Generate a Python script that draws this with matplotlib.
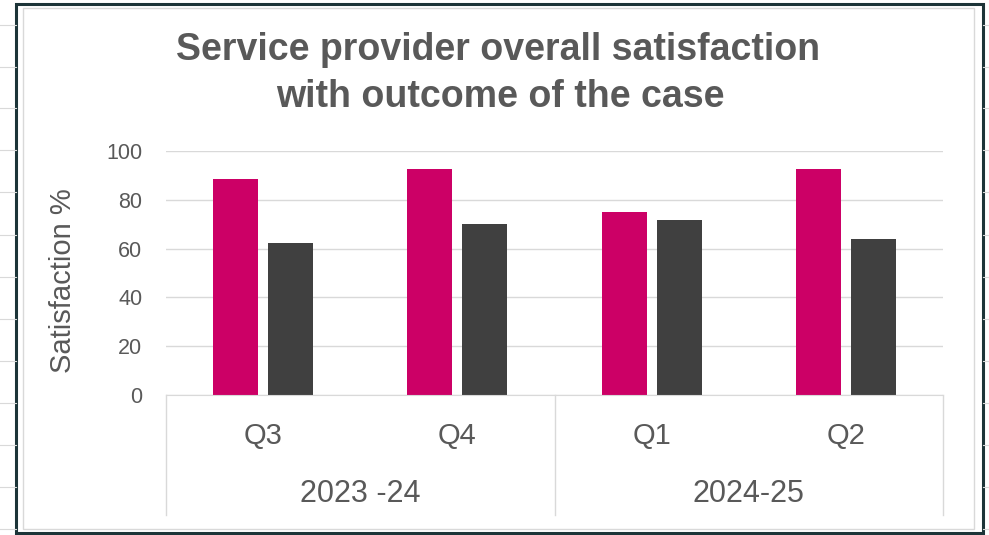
import matplotlib
matplotlib.use("Agg")
import matplotlib.pyplot as plt
from matplotlib.patches import Rectangle
import numpy as np

plt.rcParams['font.family'] = ['Liberation Sans', 'DejaVu Sans']

quarters = ["Q3", "Q4", "Q1", "Q2"]
years = ["2023 -24", "2024-25"]
provider = [88.5, 92.5, 75.2, 92.5]
other = [62.3, 70.0, 71.8, 64.0]

W, H = 989, 535
fig = plt.figure(figsize=(W / 100, H / 100), dpi=100)

# spreadsheet background grid peeking out around the frame
for y in [25, 67, 108, 150, 192, 235, 277, 319, 361, 403, 445, 487, 529]:
    fig.add_artist(plt.Line2D([0, 16 / W], [1 - y / H] * 2, color="#d9d9d9", lw=0.8))
    fig.add_artist(plt.Line2D([983 / W, 1], [1 - y / H] * 2, color="#d9d9d9", lw=0.8))

# chart frame
fig.add_artist(Rectangle((16 / W, 2 / H), 967 / W, 529 / H, transform=fig.transFigure,
                         fill=False, ec="#1c3438", lw=2.2))
fig.add_artist(Rectangle((23 / W, 6 / H), 951 / W, 521 / H, transform=fig.transFigure,
                         fill=False, ec="#d9d9d9", lw=1.0))

ax = fig.add_axes([166 / W, 140 / H, 777 / W, 244 / H])
x = np.arange(len(quarters))
bw = 0.232
ax.bar(x - bw / 2 - 0.026, provider, bw, color="#cc0066")
ax.bar(x + bw / 2 + 0.026, other, bw, color="#404040")

ax.set_xlim(-0.5, 3.5)
ax.set_ylim(0, 100)
ax.set_yticks(range(0, 101, 20))
ax.yaxis.grid(True, color="#d9d9d9", lw=1.0)
ax.set_axisbelow(True)
for s in ["top", "right", "left"]:
    ax.spines[s].set_visible(False)
ax.spines["bottom"].set_color("#d9d9d9")
ax.tick_params(axis="y", length=0, labelsize=15.5, labelcolor="#595959", pad=17)
ax.set_xticks([])

# multi-level category axis
tr = ax.get_xaxis_transform()
depth = -120 / 244
for xv in [-0.5, 1.5, 3.5]:
    ax.plot([xv, xv], [0, depth], transform=tr, color="#d9d9d9", lw=1.0, clip_on=False)
for i, q in enumerate(quarters):
    ax.text(i, -49 / 244, q, transform=tr, ha="center", va="baseline",
            fontsize=21, color="#595959")
for j, yr in enumerate(years):
    ax.text(0.5 + 2 * j, -107 / 244, yr, transform=tr, ha="center",
            va="baseline", fontsize=22, color="#595959")

fig.text(63 / W, 1 - 281 / H, "Satisfaction %", rotation=90, ha="center", va="center",
         fontsize=21, color="#595959")

fig.text(498 / W, 1 - 60 / H, "Service provider overall satisfaction",
         ha="center", va="baseline", fontsize=27, fontweight="bold", color="#595959")
fig.text(500 / W, 1 - 107 / H, "with outcome of the case",
         ha="center", va="baseline", fontsize=27, fontweight="bold", color="#595959")

fig.savefig("out.png", dpi=100, facecolor="white")
